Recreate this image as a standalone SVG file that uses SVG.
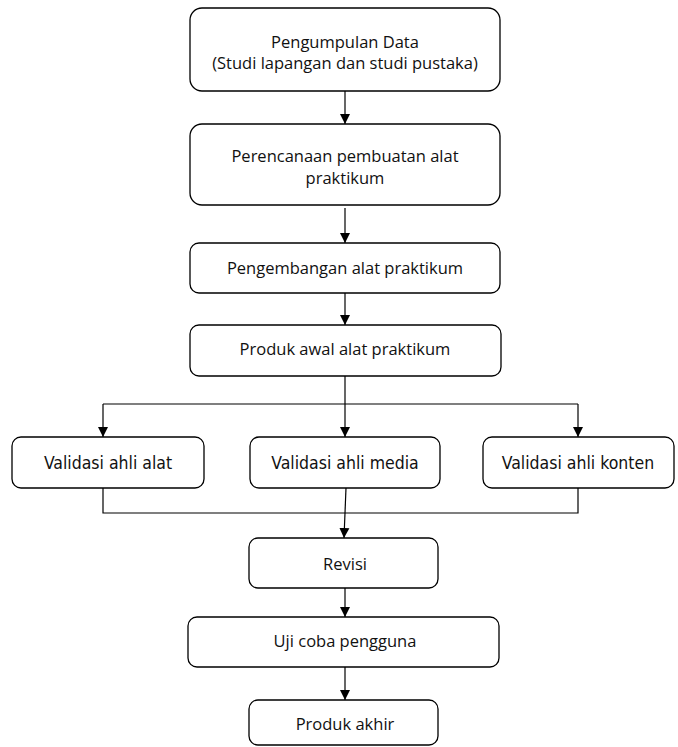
<svg xmlns="http://www.w3.org/2000/svg" width="678" height="747" viewBox="0 0 678 747">
<style>
.box{fill:#fff;stroke:#000;stroke-width:1.3}
.t{font-family:"Open Sans","Liberation Sans",Arial,sans-serif;font-size:16.5px;fill:#111;text-anchor:middle;dominant-baseline:central}
.v{font-family:"DejaVu Sans Condensed","DejaVu Sans",sans-serif;font-stretch:condensed;font-size:17.5px;fill:#111;text-anchor:middle;dominant-baseline:central}
.c{fill:none;stroke:#000;stroke-width:1.2}
</style>
<defs>
<marker id="a" markerUnits="userSpaceOnUse" markerWidth="10" markerHeight="11" refX="10" refY="5" orient="auto" viewBox="0 0 10 10">
<path d="M0,0 L10,5 L0,10 Z" fill="#000"/>
</marker>
</defs>
<g id="connectors">
<line class="c" x1="345" y1="91" x2="345" y2="124" marker-end="url(#a)"/>
<line class="c" x1="345" y1="208" x2="345" y2="243" marker-end="url(#a)"/>
<line class="c" x1="345" y1="293" x2="345" y2="325" marker-end="url(#a)"/>
<line class="c" x1="345" y1="376" x2="345" y2="437" marker-end="url(#a)"/>
<line class="c" x1="103" y1="404" x2="578" y2="404"/>
<line class="c" x1="103" y1="404" x2="103" y2="437" marker-end="url(#a)"/>
<line class="c" x1="578" y1="404" x2="578" y2="437" marker-end="url(#a)"/>
<polyline class="c" points="103,488 103,513 578,513 578,488"/>
<line class="c" x1="346" y1="488" x2="344" y2="538" marker-end="url(#a)"/>
<line class="c" x1="345" y1="588" x2="345" y2="617" marker-end="url(#a)"/>
<line class="c" x1="345" y1="667" x2="345" y2="700" marker-end="url(#a)"/>
</g>
<g id="n1"><rect class="box" x="190" y="8" width="310" height="83" rx="12"/>
<text class="t" x="345" y="41">Pengumpulan Data</text>
<text class="t" x="345" y="62">(Studi lapangan dan studi pustaka)</text></g>
<g id="n2"><rect class="box" x="190" y="124" width="310" height="81" rx="12"/>
<text class="t" x="345" y="155">Perencanaan pembuatan alat</text>
<text class="t" x="345" y="177">praktikum</text></g>
<g id="n3"><rect class="box" x="190" y="243" width="310" height="50" rx="9"/>
<text class="t" x="345" y="267">Pengembangan alat praktikum</text></g>
<g id="n4"><rect class="box" x="190" y="325" width="311" height="51" rx="9"/>
<text class="t" x="345" y="348">Produk awal alat praktikum</text></g>
<g id="n5"><rect class="box" x="12" y="437" width="192" height="51" rx="9"/>
<text class="v" x="108" y="463">Validasi ahli alat</text></g>
<g id="n6"><rect class="box" x="250" y="437" width="190" height="51" rx="9"/>
<text class="v" x="345" y="463">Validasi ahli media</text></g>
<g id="n7"><rect class="box" x="483" y="437" width="191" height="51" rx="9"/>
<text class="v" x="578" y="463">Validasi ahli konten</text></g>
<g id="n8"><rect class="box" x="249" y="538" width="189" height="50" rx="9"/>
<text class="t" x="345" y="563">Revisi</text></g>
<g id="n9"><rect class="box" x="188" y="617" width="311" height="50" rx="9"/>
<text class="t" x="345" y="640">Uji coba pengguna</text></g>
<g id="n10"><rect class="box" x="249" y="700" width="189" height="45" rx="9"/>
<text class="t" x="345" y="723">Produk akhir</text></g>
</svg>
